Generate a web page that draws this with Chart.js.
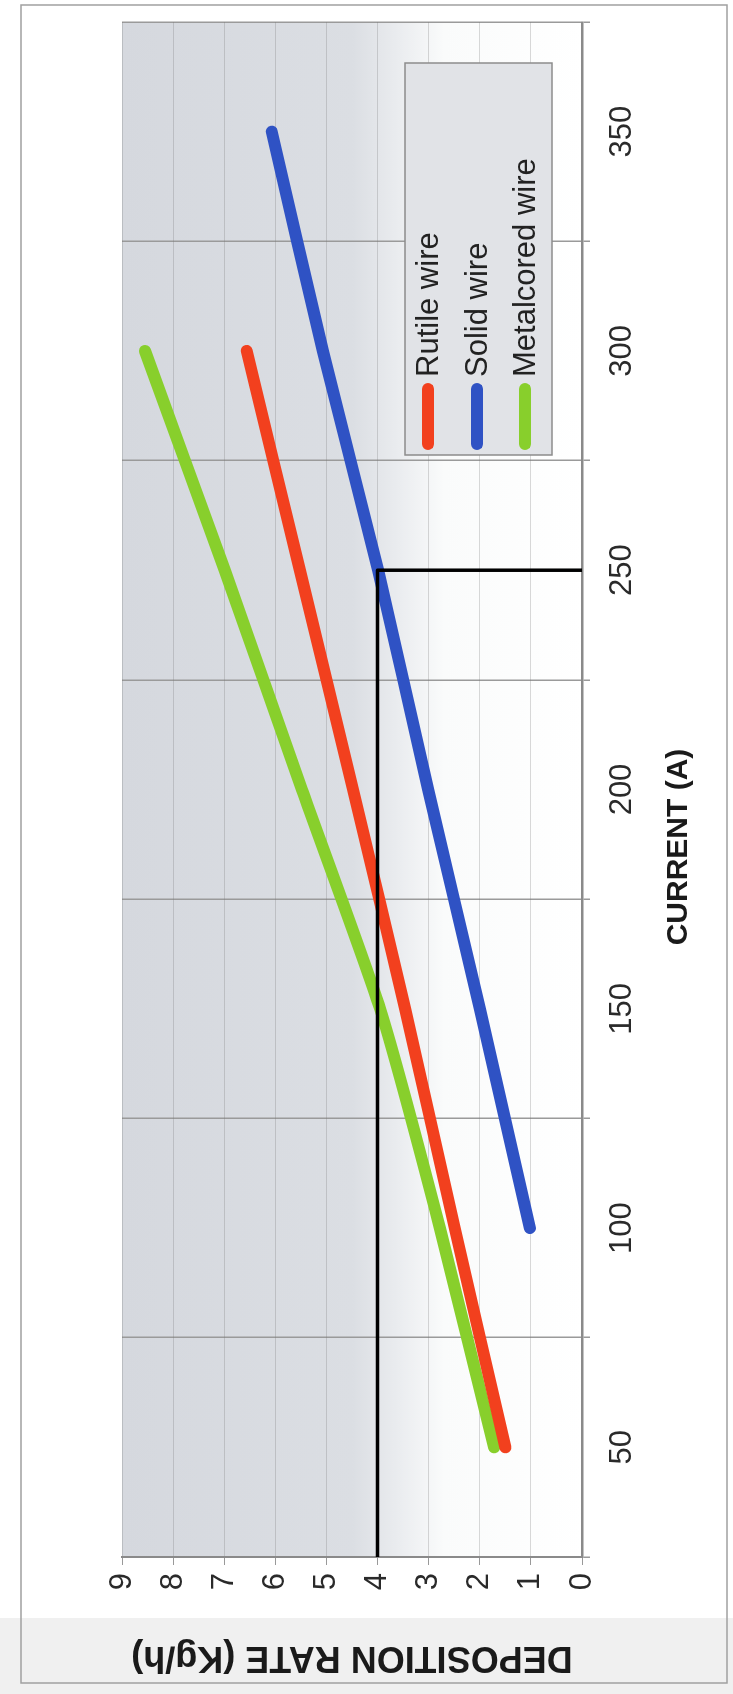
<!DOCTYPE html>
<html><head><meta charset="utf-8">
<script src="https://cdn.jsdelivr.net/npm/chart.js@4.4.1/dist/chart.umd.min.js"></script>
<style>
html,body{margin:0;padding:0;background:#fff;width:733px;height:1694px;overflow:hidden;}
#wrap{position:absolute;left:0;top:0;width:1694px;height:733px;transform-origin:0 0;transform:translate(0px,1694px) rotate(-90deg);}
canvas{display:block;}
</style></head><body>
<div id="wrap"><canvas id="c" width="1694" height="733"></canvas></div>
<script>
// ---- data ----
const currents = [50, 100, 150, 200, 250, 300, 350];
const rutile = [1.50, 2.49, 3.46, 4.48, 5.52, 6.56, null];
const solid = [null, 1.02, 2.00, 3.01, 3.99, 5.07, 6.07];
const metalcored = [1.72, 2.78, 3.95, 5.48, 6.99, 8.55, null];
const seriesNames = ['Rutile wire', 'Solid wire', 'Metalcored wire'];
const currentTicks = [50, 100, 150, 200, 250, 300, 350];
const rateTicks = [0, 1, 2, 3, 4, 5, 6, 7, 8, 9];
const readCurrent = [25, 250, 250];
const readRate = [4.0, 4.0, 0];
const xTitle = 'CURRENT (A)';
const yTitle = 'DEPOSITION RATE (Kg/h)';

const FONT = "'Liberation Sans', Arial, sans-serif";
const colors = ['#f2401e', '#2f52c4', '#88cf2c'];

function pts(arr) { return currents.map((c, i) => ({x: c, y: arr[i]})); }

const bgPlugin = {
  id: 'bg',
  beforeDraw(chart) {
    const {ctx, chartArea: a, width, height} = chart;
    ctx.save();
    ctx.fillStyle = '#ffffff';
    ctx.fillRect(0, 0, width, height);
    ctx.fillStyle = '#f0f0f0';
    ctx.fillRect(0, 0, 76, height);
    ctx.strokeStyle = '#a0a0a0';
    ctx.lineWidth = 1.5;
    ctx.strokeRect(11, 21, 1678, 706);
    const g = ctx.createLinearGradient(0, a.top, 0, a.bottom);
    g.addColorStop(0, '#d5d8de');
    g.addColorStop(0.5, '#dbdee3');
    g.addColorStop(0.6, '#eaecef');
    g.addColorStop(0.7, '#fafbfb');
    g.addColorStop(1, '#ffffff');
    ctx.fillStyle = g;
    ctx.fillRect(a.left, a.top, a.right - a.left, a.bottom - a.top);
    ctx.restore();
  }
};

const overlayPlugin = {
  id: 'overlay',
  afterDraw(chart) {
    const {ctx, chartArea: a, width} = chart;
    ctx.save();
    // x axis title, centred on the whole chart
    ctx.fillStyle = '#1a1a1a';
    ctx.font = 'bold 30px ' + FONT;
    ctx.textAlign = 'center';
    ctx.textBaseline = 'middle';
    ctx.fillText(xTitle, width / 2, 679);
    // legend box
    const bw = 392, bh = 147;
    const bx = a.right - 41 - bw, by = a.bottom - 30 - bh;
    ctx.fillStyle = '#e1e3e7';
    ctx.fillRect(bx, by, bw, bh);
    ctx.strokeStyle = '#8c8c8c';
    ctx.lineWidth = 1.5;
    ctx.strokeRect(bx, by, bw, bh);
    const rows = [23, 72, 120];
    ctx.font = '31px ' + FONT;
    ctx.textAlign = 'left';
    chart.data.datasets.slice(0, 3).forEach((ds, i) => {
      const yy = by + rows[i];
      ctx.strokeStyle = ds.borderColor;
      ctx.lineWidth = 12;
      ctx.lineCap = 'round';
      ctx.beginPath();
      ctx.moveTo(bx + 11, yy);
      ctx.lineTo(bx + 66, yy);
      ctx.stroke();
      ctx.fillStyle = '#222';
      ctx.fillText(ds.label, bx + 78, yy + 1);
    });
    ctx.restore();
  }
};

new Chart(document.getElementById('c'), {
  type: 'line',
  data: {
    datasets: [
      {label: seriesNames[0], data: pts(rutile), borderColor: colors[0]},
      {label: seriesNames[1], data: pts(solid), borderColor: colors[1]},
      {label: seriesNames[2], data: pts(metalcored), borderColor: colors[2]},
      {label: 'reading', data: readCurrent.map((c, i) => ({x: c, y: readRate[i]})),
       borderColor: '#000', borderWidth: 3.5, tension: 0, borderCapStyle: 'butt', order: -1}
    ]
  },
  options: {
    responsive: false,
    animation: false,
    devicePixelRatio: 1,
    layout: {padding: {top: 122, right: 22, left: 0, bottom: 0}},
    elements: {
      line: {borderWidth: 12, tension: 0.2, borderCapStyle: 'round', borderJoinStyle: 'round', fill: false},
      point: {radius: 0, hoverRadius: 0}
    },
    plugins: {legend: {display: false}, tooltip: {enabled: false}},
    scales: {
      x: {
        type: 'linear', min: 25, max: 375,
        afterFit(s) { s.height = 151; },
        ticks: {
          stepSize: 25, autoSkip: false, maxRotation: 0, padding: 14,
          color: '#2a2a2a', font: {family: FONT, size: 31},
          callback: v => currentTicks.includes(v) ? String(v) : ''
        },
        grid: {
          color: c => (c.tick && c.tick.value % 50 === 0) ? 'rgba(0,0,0,0)' : '#9a9a9a',
          lineWidth: 1.5, tickLength: 8, drawOnChartArea: true
        },
        border: {display: true, color: '#8a8a8a', width: 2.5}
      },
      y: {
        type: 'linear', min: 0, max: 9,
        afterFit(s) { s.width = 137; },
        ticks: {
          stepSize: 1, padding: 8, color: '#2a2a2a', font: {family: FONT, size: 31},
          callback: v => rateTicks.includes(v) ? String(v) : ''
        },
        grid: {
          color: 'rgba(120,120,120,0.28)', lineWidth: 1, borderDash: [2, 4],
          tickLength: 8, tickColor: '#999', tickBorderDash: []
        },
        border: {display: true, color: '#8a8a8a', width: 2},
        title: {
          display: true, text: yTitle, color: '#1a1a1a',
          font: {family: FONT, size: 36, weight: 'bold'},
          padding: {top: 15, bottom: 0}
        }
      }
    }
  },
  plugins: [bgPlugin, overlayPlugin]
});
</script>
</body></html>
